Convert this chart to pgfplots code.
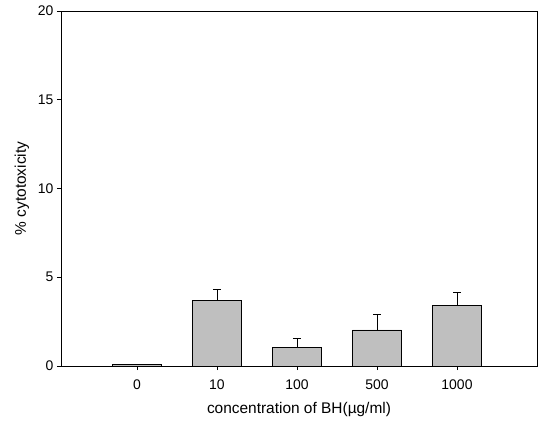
\documentclass[border=0pt]{standalone}
\usepackage{pgfplots}
\pgfplotsset{compat=1.18}
\usepackage{fontspec}
\setmainfont{Liberation Sans}
\begin{document}
\begin{tikzpicture}
\begin{axis}[
  name=ax,
  scale only axis,
  width=476bp, height=355bp,
  xmin=-0.95, xmax=5.0,
  ymin=0, ymax=20,
  ytick={0,5,10,15,20},
  xtick={0,1,2,3,4},
  xticklabels={0,10,100,500,1000},
  tick align=outside,
  xtick pos=bottom, ytick pos=left,
  major tick length=4bp,
  axis line style={line width=0.9pt},
  tick style={black, line width=0.7pt},
  xlabel={concentration of BH(\textmu g/ml)},
  ylabel={\% cytotoxicity},
  every tick label/.append style={font=\fontsize{14}{16}\selectfont},
  label style={font=\fontsize{15.5}{18}\selectfont},
  /pgf/number format/assume math mode=true,
  xticklabel style={yshift=-6bp},
  xlabel style={yshift=-6bp},
  ylabel style={yshift=2bp},
]
\addplot[ybar, bar width=0.61, fill=gray!50, draw=black, line width=0.9pt,
  error bars/.cd, y dir=plus, y explicit,
  error bar style={line width=0.9pt}, error mark options={rotate=90, mark size=4bp, line width=0.9pt}]
  coordinates {
  (0,0.08) +- (0,0)
  (1,3.68) +- (0,0.64)
  (2,1.05) +- (0,0.51)
  (3,2.03) +- (0,0.88)
  (4,3.40) +- (0,0.73)
  };
\end{axis}
\useasboundingbox ([shift={(-61bp,-55bp)}]ax.south west) rectangle ([shift={(3bp,11bp)}]ax.north east);
\end{tikzpicture}
\end{document}
